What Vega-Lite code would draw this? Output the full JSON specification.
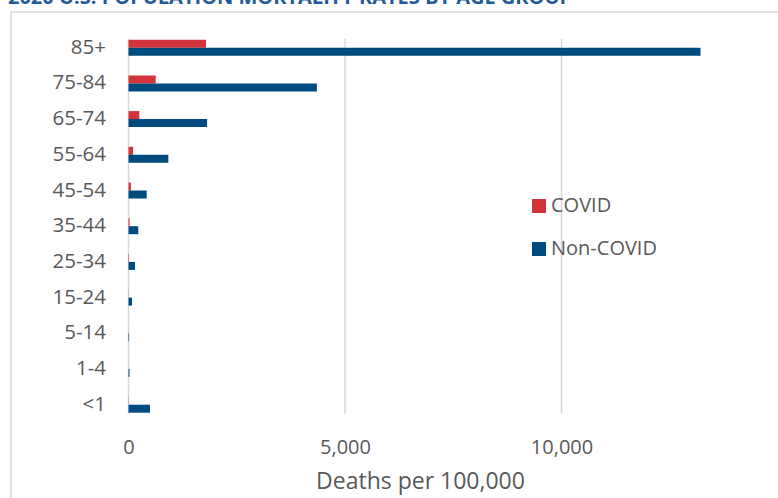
{
  "$schema": "https://vega.github.io/schema/vega-lite/v6.json",
  "width": 780,
  "height": 490,
  "autosize": "none",
  "padding": {"left": 11, "top": 12, "right": 0, "bottom": 0},
  "background": "white",
  "title": {
    "text": "2020 U.S. POPULATION MORTALITY RATES BY AGE GROUP",
    "anchor": "start",
    "frame": "group",
    "orient": "top",
    "offset": 7,
    "dx": -3,
    "dy": 19,
    "baseline": "alphabetic",
    "font": "Open Sans",
    "fontSize": 20,
    "fontWeight": "bold",
    "color": "#1F5C99"
  },
  "config": {
    "view": {"stroke": "#d9d9d9", "strokeWidth": 1.5},
    "font": "Open Sans"
  },
  "layer": [
    {
      "data": {"values": [{"tick": 0}, {"tick": 5000}, {"tick": 10000}]},
      "mark": {"type": "rule", "color": "#d9d9d9", "strokeWidth": 1.5, "yOffset": -9, "y2Offset": 9},
      "encoding": {
        "x": {"field": "tick", "type": "quantitative", "scale": {"domain": [-2714, 15300], "nice": false, "zero": false}},
        "y": {"datum": "85+", "type": "nominal"},
        "y2": {"datum": "<1"}
      }
    },
    {
      "data": {
        "values": [
          {"age": "85+", "series": "COVID", "rate": 1790},
          {"age": "85+", "series": "Non-COVID", "rate": 13210},
          {"age": "75-84", "series": "COVID", "rate": 628},
          {"age": "75-84", "series": "Non-COVID", "rate": 4350},
          {"age": "65-74", "series": "COVID", "rate": 250},
          {"age": "65-74", "series": "Non-COVID", "rate": 1815},
          {"age": "55-64", "series": "COVID", "rate": 105},
          {"age": "55-64", "series": "Non-COVID", "rate": 920},
          {"age": "45-54", "series": "COVID", "rate": 55},
          {"age": "45-54", "series": "Non-COVID", "rate": 420},
          {"age": "35-44", "series": "COVID", "rate": 25},
          {"age": "35-44", "series": "Non-COVID", "rate": 225},
          {"age": "25-34", "series": "COVID", "rate": 12},
          {"age": "25-34", "series": "Non-COVID", "rate": 150},
          {"age": "15-24", "series": "COVID", "rate": 4},
          {"age": "15-24", "series": "Non-COVID", "rate": 80},
          {"age": "5-14", "series": "COVID", "rate": 1},
          {"age": "5-14", "series": "Non-COVID", "rate": 13},
          {"age": "1-4", "series": "COVID", "rate": 1},
          {"age": "1-4", "series": "Non-COVID", "rate": 22},
          {"age": "<1", "series": "COVID", "rate": 5},
          {"age": "<1", "series": "Non-COVID", "rate": 495}
        ]
      },
      "mark": {"type": "bar"},
      "encoding": {
        "y": {
          "field": "age",
          "type": "nominal",
          "scale": {
            "domain": ["85+", "75-84", "65-74", "55-64", "45-54", "35-44", "25-34", "15-24", "5-14", "1-4", "<1"],
            "range": [17.85, 410.55],
            "paddingInner": 0.1036,
            "paddingOuter": 0.0518,
            "align": 0.5
          },
          "axis": {
            "title": null,
            "domain": false,
            "ticks": false,
            "grid": false,
            "offset": -117.5,
            "labelPadding": 23,
            "labelFont": "Open Sans",
            "labelFontSize": 20.5,
            "labelColor": "#595959"
          }
        },
        "yOffset": {
          "field": "series",
          "type": "nominal",
          "scale": {"domain": ["COVID", "Non-COVID"], "paddingInner": 0, "paddingOuter": 1}
        },
        "x": {
          "field": "rate",
          "type": "quantitative",
          "scale": {"domain": [-2714, 15300], "nice": false, "zero": false},
          "axis": {
            "values": [0, 5000, 10000],
            "format": ",.0f",
            "grid": false,
            "domain": false,
            "ticks": false,
            "offset": -72,
            "labelPadding": 7,
            "labelFont": "Open Sans",
            "labelFontSize": 20,
            "labelColor": "#595959",
            "title": "Deaths per 100,000",
            "titleFont": "Open Sans",
            "titleFontSize": 23,
            "titleFontWeight": "normal",
            "titleColor": "#595959",
            "titleX": 409,
            "titlePadding": 13
          }
        },
        "x2": {"datum": 0},
        "color": {
          "field": "series",
          "type": "nominal",
          "scale": {"domain": ["COVID", "Non-COVID"], "range": ["#D3333A", "#004B7D"]},
          "legend": {
            "orient": "none",
            "legendX": 518,
            "legendY": 184,
            "title": null,
            "padding": 0,
            "symbolType": "square",
            "symbolSize": 196,
            "symbolStrokeWidth": 0,
            "labelFont": "Open Sans",
            "labelFontSize": 20,
            "labelColor": "#595959",
            "labelOffset": 2,
            "rowPadding": 23
          }
        }
      }
    }
  ]
}
